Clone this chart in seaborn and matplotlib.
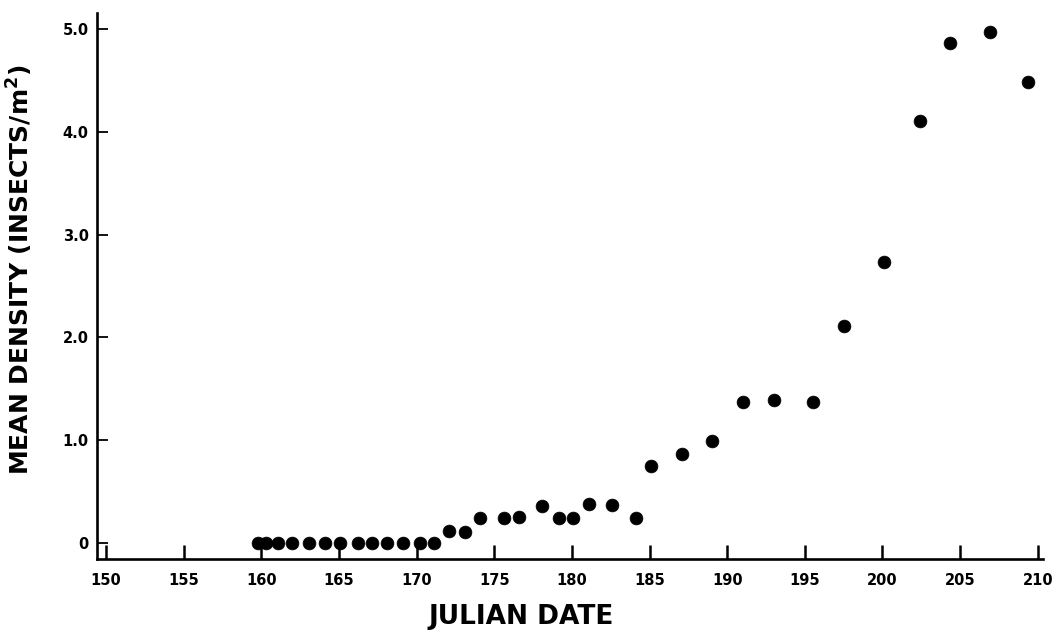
import matplotlib
matplotlib.use("Agg")
import matplotlib.pyplot as plt
import seaborn as sns
import pandas as pd

# Julian date of each sample and the mean insect density found on it
julian_date = [159.8, 160.3, 161.1, 162.0, 163.1, 164.1, 165.1, 166.2, 167.1,
               168.1, 169.1, 170.2, 171.1, 172.1, 173.1, 174.1, 175.6, 176.6,
               178.1, 179.2, 180.1, 181.1, 182.6, 184.1, 185.1, 187.1, 189.0,
               191.0, 193.0, 195.5, 197.5, 200.1, 202.4, 204.35, 206.9, 209.4]
mean_density = [0.0, 0.0, 0.0, 0.0, 0.0, 0.0, 0.0, 0.0, 0.0,
                0.0, 0.0, 0.0, 0.0, 0.12, 0.11, 0.24, 0.24, 0.25,
                0.36, 0.24, 0.24, 0.38, 0.37, 0.24, 0.75, 0.87, 0.99,
                1.37, 1.39, 1.37, 2.11, 2.73, 4.10, 4.86, 4.97, 4.48]

x_ticks = [150, 155, 160, 165, 170, 175, 180, 185, 190, 195, 200, 205, 210]
y_ticks = [0, 1, 2, 3, 4, 5]
y_tick_labels = ["0", "1.0", "2.0", "3.0", "4.0", "5.0"]

df = pd.DataFrame({"date": julian_date, "density": mean_density})

sns.set_style("ticks")
plt.rcParams["font.family"] = ["DejaVu Sans"]
plt.rcParams["font.weight"] = "bold"
plt.rcParams["text.color"] = "black"
plt.rcParams["axes.labelcolor"] = "black"

fig = plt.figure(figsize=(10.62, 6.36), dpi=100)
ax = fig.add_axes([0.0913, 0.121, 0.8907, 0.859])

sns.scatterplot(data=df, x="date", y="density", ax=ax, color="black",
                s=85, edgecolor="black", linewidth=0.5, legend=False)

ax.set_xlim(149.42, 210.33)
ax.set_ylim(-0.156, 5.158)
ax.set_xticks(x_ticks)
ax.set_yticks(y_ticks)
ax.set_yticklabels(y_tick_labels)

for lab in ax.get_xticklabels() + ax.get_yticklabels():
    lab.set_fontweight("bold")
    lab.set_fontsize(10.5)
    lab.set_color("black")

ax.tick_params(axis="x", direction="in", length=10, width=1.8, pad=10, colors="black")
ax.tick_params(axis="y", direction="in", length=8, width=1.3, pad=6, colors="black")

sns.despine(ax=ax)
for side in ("left", "bottom"):
    ax.spines[side].set_linewidth(1.9)
    ax.spines[side].set_color("black")

ax.set_xlabel("JULIAN DATE", fontsize=19, fontweight="bold", color="black")
ax.set_ylabel("MEAN DENSITY (INSECTS/m$^\\mathbf{2}$)", fontsize=18,
              fontweight="bold", color="black")
ax.xaxis.set_label_coords(0.449, -0.082)
ax.yaxis.set_label_coords(-0.066, 0.529)

fig.savefig("out.png", dpi=100)
